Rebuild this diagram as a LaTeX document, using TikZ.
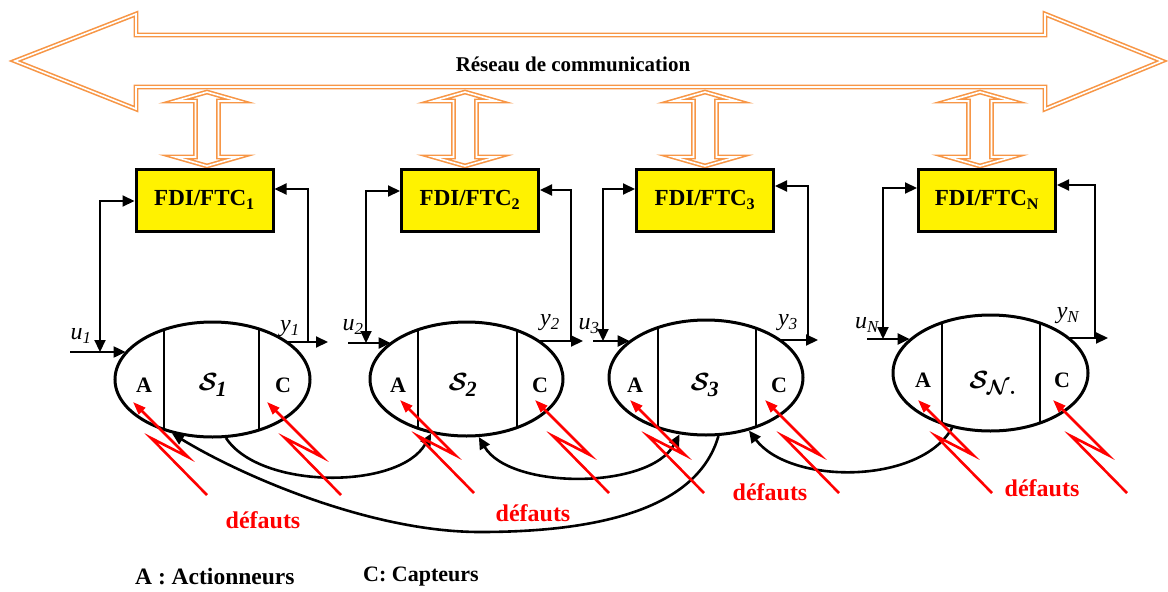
\documentclass[tikz,border=0pt]{standalone}
\usepackage{fontspec}
\setmainfont{Liberation Serif}
\usetikzlibrary{shapes.geometric,arrows.meta}
\definecolor{netorange}{RGB}{247,150,70}
\begin{document}
\begin{tikzpicture}[x=1pt,y=-1pt,
 net/.style={draw=netorange, line width=1.6pt, double=white, double distance=1.6pt, line join=miter},
 fdibox/.style={draw=black, line width=3pt, fill=yellow, minimum width=137pt, minimum height=62pt, inner sep=0pt, font=\fontsize{23}{26}\selectfont\bfseries},
 sysell/.style={ellipse, draw=black, line width=3pt, inner sep=0pt},
 divider/.style={draw=black, line width=2.6pt},
 lab/.style={font=\fontsize{22}{24}\selectfont\bfseries},
 sysname/.style={font=\fontsize{31}{32}\selectfont\boldmath},
 sig/.style={font=\fontsize{24}{26}\selectfont\itshape},
 conn/.style={draw=black, line width=2.1pt, -{Triangle[length=12pt,width=11pt]}},
 biconn/.style={draw=black, line width=2.1pt, {Triangle[length=12pt,width=11pt]}-{Triangle[length=12pt,width=11pt]}},
 curveconn/.style={draw=black, line width=2.6pt, -{Triangle[length=12pt,width=11pt]}},
 bicurve/.style={draw=black, line width=2.6pt, {Triangle[length=12pt,width=11pt]}-{Triangle[length=12pt,width=11pt]}},
 fault/.style={draw=red, line width=2.6pt, line join=miter, -{Triangle[length=13pt,width=9pt]}},
 deflab/.style={text=red, font=\fontsize{24}{28}\selectfont\bfseries},
 legend/.style={font=\fontsize{22}{26}\selectfont\bfseries, anchor=west, inner sep=0pt},
 bolt/.pic={\draw[fault] (74,93) -- (18,36) -- (55,55) -- (0,0);},
 updown/.pic={\draw[net] (0,92) -- (31.5,101) -- (11.5,101) -- (11.5,157) -- (31.5,157) -- (0,166) -- (-31.5,157) -- (-11.5,157) -- (-11.5,101) -- (-31.5,101) -- cycle;}
]
\useasboundingbox (0,0) rectangle (1168,592);

% communication network arrow
\draw[net] (15,61) -- (136,14) -- (136,35) -- (1045,35) -- (1045,14) -- (1162,61) -- (1045,109) -- (1045,87) -- (136,87) -- (136,109) -- cycle;
\node[font=\fontsize{21}{24}\selectfont\bfseries] (net) at (573,64) {Réseau de communication};

% vertical links network <-> FDI
\pic at (207,0) {updown};
\pic at (465,0) {updown};
\pic at (705,0) {updown};
\pic at (980,0) {updown};

% FDI/FTC boxes
\node[fdibox] (F1) at (204.5,200) {FDI/FTC\textsubscript{1}};
\node[fdibox] (F2) at (470,200) {FDI/FTC\textsubscript{2}};
\node[fdibox] (F3) at (705,200) {FDI/FTC\textsubscript{3}};
\node[fdibox] (FN) at (987,200) {FDI/FTC\textsubscript{N}};

% subsystems
\node[sysell, minimum width=195pt, minimum height=115pt] (E1) at (212.5,379.5) {};
\node[sysell, minimum width=193pt, minimum height=114pt] (E2) at (466.5,379) {};
\node[sysell, minimum width=194pt, minimum height=115pt] (E3) at (706,377.5) {};
\node[sysell, minimum width=195pt, minimum height=116pt] (EN) at (990.5,373) {};

\begin{scope}
\clip (212.5,379.5) ellipse [x radius=97.5pt, y radius=57.5pt];
\draw[divider] (164,300) -- (164,460);
\draw[divider] (259,300) -- (259,460);
\end{scope}
\begin{scope}
\clip (466.5,379) ellipse [x radius=96.5pt, y radius=57pt];
\draw[divider] (418,300) -- (418,460);
\draw[divider] (517,300) -- (517,460);
\end{scope}
\begin{scope}
\clip (706,377.5) ellipse [x radius=97pt, y radius=57.5pt];
\draw[divider] (658,300) -- (658,460);
\draw[divider] (756,300) -- (756,460);
\end{scope}
\begin{scope}
\clip (990.5,373) ellipse [x radius=97.5pt, y radius=58pt];
\draw[divider] (942,300) -- (942,460);
\draw[divider] (1040,300) -- (1040,460);
\end{scope}

\node[lab] (A1) at (144,385) {A};
\node[sysname] (S1) at (213,385) {$\mathcal{S}_{\mathit{1}}$};
\node[lab] (C1) at (283,385) {C};
\node[lab] (A2) at (398,385) {A};
\node[sysname] (S2) at (463,385) {$\mathcal{S}_{\mathit{2}}$};
\node[lab] (C2) at (540,385) {C};
\node[lab] (A3) at (635,385) {A};
\node[sysname] (S3) at (705,385) {$\mathcal{S}_{\mathit{3}}$};
\node[lab] (C3) at (779,385) {C};
\node[lab] (AN) at (923,380) {A};
\node[sysname] (SN) at (993,383) {$\mathcal{S}_{\mathcal{N}.}$};
\node[lab] (CN) at (1062,380) {C};

% signal coordinates
\coordinate (us1) at (70,352);  \coordinate (fl1) at (100,352); \coordinate (fla1) at (100,201);
\coordinate (fr1) at (308,342); \coordinate (fra1) at (308,189); \coordinate (yt1) at (328,342);
\coordinate (us2) at (348,343); \coordinate (fl2) at (366,343); \coordinate (fla2) at (366,191);
\coordinate (fr2) at (571,341); \coordinate (fra2) at (571,190); \coordinate (yt2) at (583,341);
\coordinate (us3) at (593,341); \coordinate (fl3) at (603,341); \coordinate (fla3) at (603,189);
\coordinate (fr3) at (808,340); \coordinate (fra3) at (808,186); \coordinate (yt3) at (818,340);
\coordinate (usN) at (867,339); \coordinate (flN) at (883,339); \coordinate (flaN) at (883,188);
\coordinate (frN) at (1095,338); \coordinate (fraN) at (1095,185); \coordinate (ytN) at (1108,338);

% inputs / outputs
\draw[conn] (us1) -- (us1 -| E1.162);
\draw[conn] (fr1 -| E1.27) -- (yt1);
\draw[biconn] (fl1) -- (fla1) -- (fla1 -| F1.west);
\draw[conn] (fr1) -- (fra1) -- (fra1 -| F1.east);

\draw[conn] (us2) -- (us2 -| E2.154);
\draw[conn] (fr2 -| E2.28) -- (yt2);
\draw[biconn] (fl2) -- (fla2) -- (fla2 -| F2.west);
\draw[conn] (fr2) -- (fra2) -- (fra2 -| F2.east);

\draw[conn] (us3) -- (us3 -| E3.154);
\draw[conn] (fr3 -| E3.27) -- (yt3);
\draw[biconn] (fl3) -- (fla3) -- (fla3 -| F3.west);
\draw[conn] (fr3) -- (fra3) -- (fra3 -| F3.east);

\draw[conn] (usN) -- (usN -| EN.157);
\draw[conn] (frN -| EN.24) -- (ytN);
\draw[biconn] (flN) -- (flaN) -- (flaN -| FN.west);
\draw[conn] (frN) -- (fraN) -- (fraN -| FN.east);

\node[sig] (u1) at (81,336) {u\textsubscript{1}};
\node[sig] (y1) at (290,329) {y\textsubscript{1}};
\node[sig] (u2) at (353,327) {u\textsubscript{2}};
\node[sig] (y2) at (550,323) {y\textsubscript{2}};
\node[sig] (u3) at (589,326) {u\textsubscript{3}};
\node[sig] (y3) at (788,323) {y\textsubscript{3}};
\node[sig] (uN) at (867,325) {u\textsubscript{N}};
\node[sig] (yN) at (1068,316) {y\textsubscript{N}};

% interconnections
\draw[curveconn] (E1.-77) .. controls (260,490) and (400,490) .. (E2.-123);
\draw[bicurve] (E2.-78) .. controls (510,490) and (650,490) .. (E3.-115);
\draw[curveconn] (E3.-78) .. controls (700,500) and (620,532) .. (480,532) .. controls (370,532) and (240,475) .. (E1.-127);
\draw[curveconn] (EN.-125) .. controls (920,485) and (790,485) .. (E3.-51);

% faults
\pic at (133,402) {bolt};
\pic at (267,402) {bolt};
\pic at (400,400) {bolt};
\pic at (535,400) {bolt};
\pic at (630,400) {bolt};
\pic at (765,400) {bolt};
\pic at (918,400) {bolt};
\pic at (1053,400) {bolt};

\node[deflab] (d1) at (263,520) {défauts};
\node[deflab] (d2) at (533,513) {défauts};
\node[deflab] (d3) at (770,492) {défauts};
\node[deflab] (d4) at (1042,488) {défauts};

% legend
\node[legend, font=\fontsize{23.5}{26}\selectfont\bfseries] (legA) at (135,577) {A : Actionneurs};
\node[legend] (legC) at (363,577) {C: Capteurs};
\end{tikzpicture}
\end{document}
